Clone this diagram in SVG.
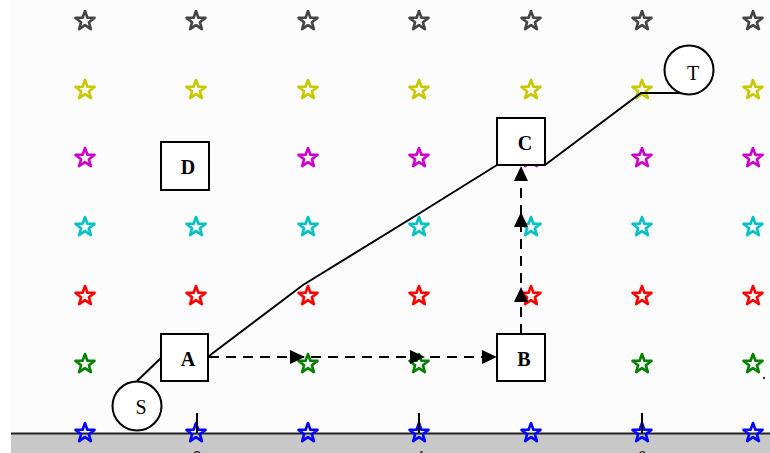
<svg xmlns="http://www.w3.org/2000/svg" xmlns:xlink="http://www.w3.org/1999/xlink" width="770" height="453" viewBox="0 0 770 453">
<style>
.node{fill:#fff;stroke:#000;stroke-width:2}
.lbl{font-family:"Liberation Serif","Times New Roman",serif;font-size:20px;fill:#000;text-anchor:middle}
.b{font-weight:bold}
.solid{fill:none;stroke:#000;stroke-width:2}
.dash{fill:none;stroke:#000;stroke-width:2;stroke-dasharray:10,7}
.st{fill:none;stroke-width:2.6;stroke-linejoin:round}
.tick{stroke:#000;stroke-width:2}
.axl{font-family:"Liberation Sans",Arial,sans-serif;font-size:16px;fill:#333;text-anchor:middle}
</style>
<defs>
<polygon id="star" points="0,-10 2.4,-3.3 9.5,-3.1 3.9,1.3 5.9,8.1 0,4.1 -5.9,8.1 -3.9,1.3 -9.5,-3.1 -2.4,-3.3"/>
<polygon id="ah" points="0,0 -15,-7 -15,7" fill="#000"/>
</defs>
<rect x="0" y="0" width="770" height="453" fill="#fff"/>
<rect x="11" y="0" width="759" height="433" fill="#fcfcfc"/>
<rect x="11" y="434" width="759" height="19" fill="#c8c8c8"/>
<line x1="11" y1="433.5" x2="770" y2="433.5" stroke="#222" stroke-width="2"/>
<g id="tick-labels">
<text class="axl" x="197" y="463">2</text>
<text class="axl" x="420" y="463">4</text>
<text class="axl" x="642" y="463">6</text>
</g>
<g id="stars">
<g class="st" stroke="#444">
<use xlink:href="#star" x="85" y="21"/><use xlink:href="#star" x="196" y="21"/><use xlink:href="#star" x="308" y="21"/><use xlink:href="#star" x="419" y="21"/><use xlink:href="#star" x="531" y="21"/><use xlink:href="#star" x="642" y="21"/><use xlink:href="#star" x="753" y="21"/>
</g>
<g class="st" stroke="#c8c800">
<use xlink:href="#star" x="85" y="90"/><use xlink:href="#star" x="196" y="90"/><use xlink:href="#star" x="308" y="90"/><use xlink:href="#star" x="419" y="90"/><use xlink:href="#star" x="531" y="90"/><use xlink:href="#star" x="642" y="90"/><use xlink:href="#star" x="753" y="90"/>
</g>
<g class="st" stroke="#cc00cc">
<use xlink:href="#star" x="85" y="158"/><use xlink:href="#star" x="308" y="158"/><use xlink:href="#star" x="419" y="158"/><use xlink:href="#star" x="531" y="158"/><use xlink:href="#star" x="642" y="158"/><use xlink:href="#star" x="753" y="158"/>
</g>
<g class="st" stroke="#00c0c8">
<use xlink:href="#star" x="85" y="227"/><use xlink:href="#star" x="196" y="227"/><use xlink:href="#star" x="308" y="227"/><use xlink:href="#star" x="419" y="227"/><use xlink:href="#star" x="531" y="227"/><use xlink:href="#star" x="642" y="227"/><use xlink:href="#star" x="753" y="227"/>
</g>
<g class="st" stroke="#ff0000">
<use xlink:href="#star" x="85" y="296"/><use xlink:href="#star" x="196" y="296"/><use xlink:href="#star" x="308" y="296"/><use xlink:href="#star" x="419" y="296"/><use xlink:href="#star" x="531" y="296"/><use xlink:href="#star" x="642" y="296"/><use xlink:href="#star" x="753" y="296"/>
</g>
<g class="st" stroke="#008000">
<use xlink:href="#star" x="85" y="364"/><use xlink:href="#star" x="308" y="364"/><use xlink:href="#star" x="419" y="364"/><use xlink:href="#star" x="642" y="364"/><use xlink:href="#star" x="753" y="364"/>
</g>
<g class="st" stroke="#0000ff">
<use xlink:href="#star" x="85" y="433"/><use xlink:href="#star" x="196" y="433"/><use xlink:href="#star" x="308" y="433"/><use xlink:href="#star" x="419" y="433"/><use xlink:href="#star" x="531" y="433"/><use xlink:href="#star" x="642" y="433"/><use xlink:href="#star" x="753" y="433"/>
</g>
<circle cx="764" cy="378" r="1.2" fill="#333"/>
</g>
<g id="ticks">
<line class="tick" x1="197" y1="413" x2="197" y2="433"/>
<line class="tick" x1="419" y1="413" x2="419" y2="433"/>
<line class="tick" x1="642" y1="413" x2="642" y2="433"/>
</g>
<g id="connectors">
<polyline class="solid" points="137,381 161,358"/>
<polyline class="solid" points="209,356 303,285 420,213 497,165"/>
<polyline class="solid" points="545,165 641,93 689,93"/>
<line class="dash" x1="209" y1="357" x2="482" y2="357"/>
<use xlink:href="#ah" x="305" y="357"/>
<use xlink:href="#ah" x="425" y="357"/>
<use xlink:href="#ah" x="497" y="357"/>
<line class="dash" x1="521" y1="334" x2="521" y2="180"/>
<use xlink:href="#ah" transform="translate(521,287) rotate(-90)"/>
<use xlink:href="#ah" transform="translate(521,212) rotate(-90)"/>
<use xlink:href="#ah" transform="translate(521,166) rotate(-90)"/>
</g>
<g id="node-S"><circle class="node" cx="137" cy="406" r="24.5"/><text class="lbl" x="141" y="414">S</text></g>
<g id="node-T"><circle class="node" cx="689" cy="70" r="24.5"/><text class="lbl" x="693" y="80">T</text></g>
<g id="node-A"><rect class="node" x="161" y="334" width="47" height="47"/><text class="lbl b" x="188" y="366">A</text></g>
<g id="node-B"><rect class="node" x="497" y="334" width="48" height="47"/><text class="lbl b" x="524" y="366">B</text></g>
<g id="node-C"><rect class="node" x="497" y="118" width="48" height="47"/><text class="lbl b" x="525" y="150">C</text></g>
<g id="node-D"><rect class="node" x="161" y="142" width="48" height="48"/><text class="lbl b" x="188" y="174">D</text></g>
</svg>
